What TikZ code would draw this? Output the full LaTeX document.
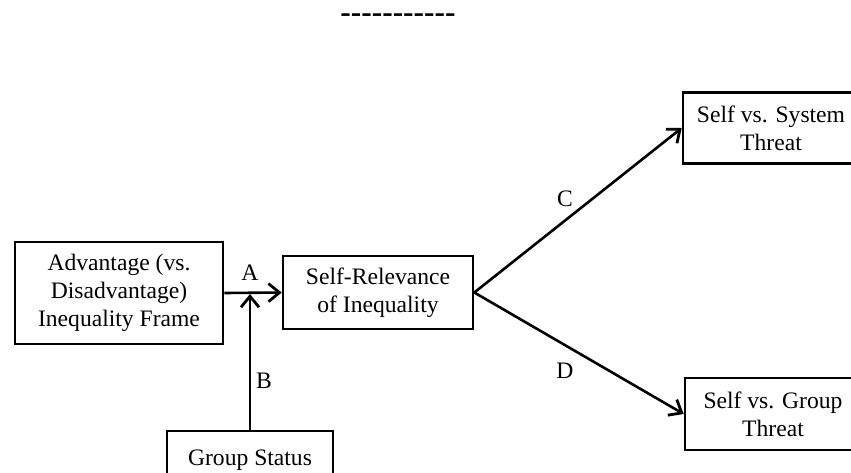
\documentclass[tikz,border=0pt]{standalone}
\usepackage{fontspec}
\setmainfont{Liberation Serif}
\newfontfamily\dashfont{Liberation Serif}
\usetikzlibrary{arrows.meta}
\tikzset{
  boxnode/.style={draw, line width=1.3pt, inner sep=0pt, align=center,
    font=\fontsize{11.8}{14}\selectfont},
  lbl/.style={inner sep=0pt, anchor=base, font=\fontsize{11.8}{14}\selectfont},
  conn/.style={line width=1.3pt, -{Straight Barb[length=5.5pt,width=9pt,line width=1.4pt]}},
}
\def\hy{\hbox{-}}
\begin{document}
\begin{tikzpicture}[x=0.5pt,y=-0.5pt]
\useasboundingbox (0,0) rectangle (851,472);
\node[inner sep=0pt, anchor=base, font=\dashfont\bfseries\fontsize{15.7}{18}\selectfont] (dash) at (398,22) {\hy\hy\hy\hy\hy\hy\hy\hy\hy\hy\hy};
\node[boxnode, minimum width=104pt, minimum height=51pt] (adv) at (119,293) {Advantage (vs.\\Disadvantage)\\Inequality Frame};
\node[boxnode, minimum width=95pt, minimum height=36.5pt] (rel) at (378,292.5) {Self-Relevance\\of Inequality};
\node[boxnode, minimum width=88pt, minimum height=35.5pt] (sys) at (771,128) {Self vs. System\\Threat};
\node[boxnode, minimum width=88pt, minimum height=36pt] (grp) at (773,414) {Self vs. Group\\Threat};
\node[boxnode, minimum width=83pt, minimum height=29pt] (stat) at (250,460) {Group Status};
\coordinate (junc) at (250,294);
\draw[conn] (adv.east) -- (rel.west);
\draw[conn] (stat.north) -- (junc);
\draw[conn] (rel.east) -- (sys.west);
\draw[conn] (rel.east) -- (grp.west);
\node[lbl] (la) at (250,280) {A};
\node[lbl] (lb) at (264,388) {B};
\node[lbl] (lc) at (565,206) {C};
\node[lbl] (ld) at (565,378) {D};
\end{tikzpicture}
\end{document}
